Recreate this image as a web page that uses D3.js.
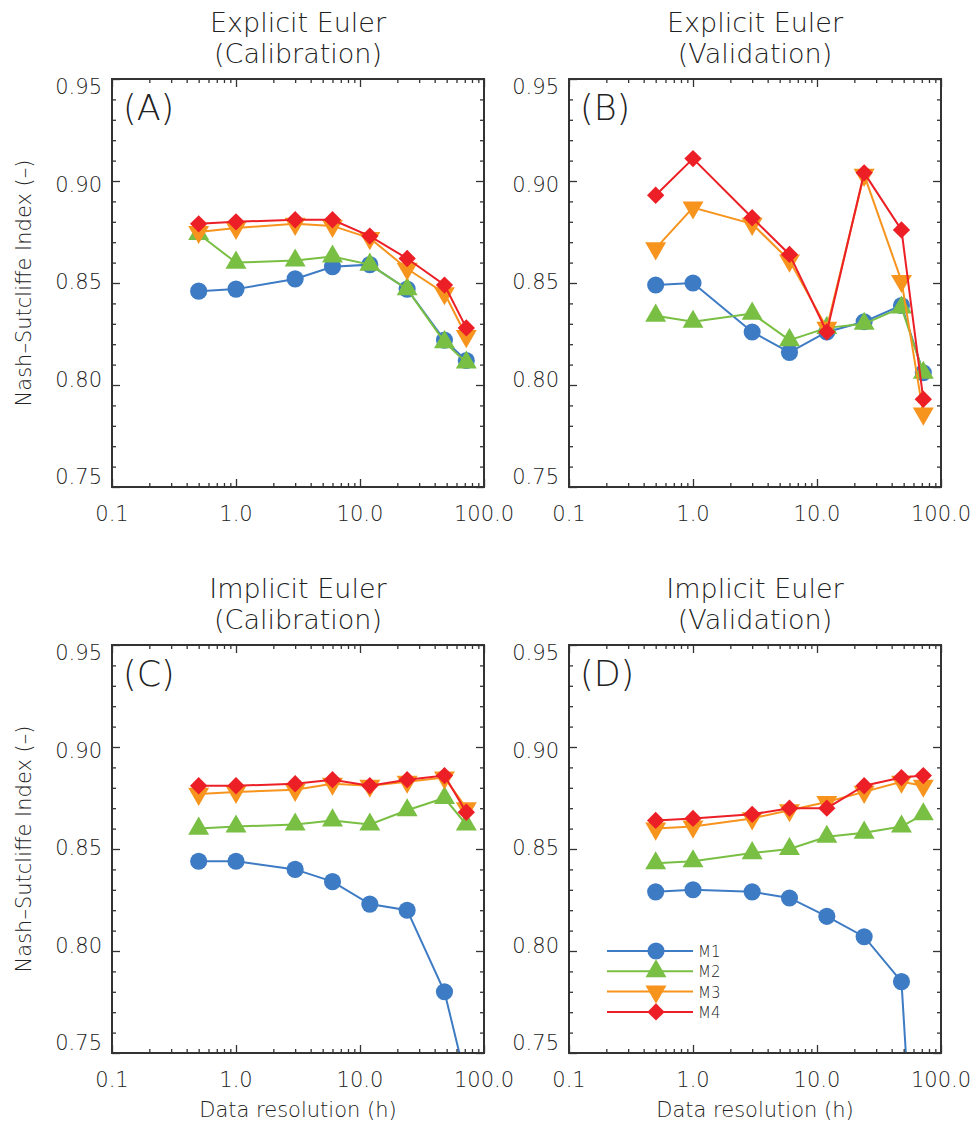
<!DOCTYPE html>
<html>
<head>
<meta charset="utf-8">
<script src="https://cdn.jsdelivr.net/npm/d3@7"></script>
<style>
  body { margin: 0; background: #fff; }
  svg text { font-family: "DejaVu Sans", sans-serif; font-weight: 200; fill: #222; }
</style>
</head>
<body>
<svg id="chart" width="977" height="1124"></svg>
<script>
// x values (hours) shared by every series
const resolution = [0.5, 1, 3, 6, 12, 24, 48, 72];
const xTickValues = [0.1, 1, 10, 100];
const xTickLabels = ["0.1", "1.0", "10.0", "100.0"];
const yTickValues = [0.75, 0.80, 0.85, 0.90, 0.95];
const yTickLabels = ["0.75", "0.80", "0.85", "0.90", "0.95"];
const models = ["M1", "M2", "M3", "M4"];
const colors = ["#3d7bc4", "#79bf43", "#f7941e", "#ec1f26"];

const panelTags = ["(A)", "(B)", "(C)", "(D)"];
const panelTitles = [
  ["Explicit Euler", "(Calibration)"],
  ["Explicit Euler", "(Validation)"],
  ["Implicit Euler", "(Calibration)"],
  ["Implicit Euler", "(Validation)"]
];

// (A) explicit, calibration
const explCalM1 = [0.846, 0.847, 0.852, 0.858, 0.859, 0.847, 0.822, 0.812];
const explCalM2 = [0.874, 0.860, 0.861, 0.863, 0.859, 0.847, 0.821, 0.811];
const explCalM3 = [0.875, 0.877, 0.879, 0.878, 0.872, 0.857, 0.845, 0.824];
const explCalM4 = [0.879, 0.880, 0.881, 0.881, 0.873, 0.862, 0.849, 0.828];
// (B) explicit, validation
const explValM1 = [0.849, 0.850, 0.826, 0.816, 0.826, 0.831, 0.839, 0.806];
const explValM2 = [0.834, 0.831, 0.835, 0.822, 0.828, 0.830, 0.838, 0.806];
const explValM3 = [0.867, 0.887, 0.879, 0.861, 0.828, 0.903, 0.851, 0.786];
const explValM4 = [0.893, 0.911, 0.882, 0.864, 0.826, 0.904, 0.876, 0.793];
// (C) implicit, calibration
const implCalM1 = [0.844, 0.844, 0.840, 0.834, 0.823, 0.820, 0.780, 0.736];
const implCalM2 = [0.860, 0.861, 0.862, 0.864, 0.862, 0.869, 0.875, 0.862];
const implCalM3 = [0.877, 0.878, 0.879, 0.882, 0.881, 0.883, 0.885, 0.870];
const implCalM4 = [0.881, 0.881, 0.882, 0.884, 0.881, 0.884, 0.886, 0.868];
// (D) implicit, validation
const implValM1 = [0.829, 0.830, 0.829, 0.826, 0.817, 0.807, 0.785, 0.610];
const implValM2 = [0.843, 0.844, 0.848, 0.850, 0.856, 0.858, 0.861, 0.867];
const implValM3 = [0.860, 0.861, 0.865, 0.869, 0.873, 0.878, 0.883, 0.881];
const implValM4 = [0.864, 0.865, 0.867, 0.870, 0.870, 0.881, 0.885, 0.886];

const panelSeries = [
  [explCalM1, explCalM2, explCalM3, explCalM4],
  [explValM1, explValM2, explValM3, explValM4],
  [implCalM1, implCalM2, implCalM3, implCalM4],
  [implValM1, implValM2, implValM3, implValM4]
];

// circle, up triangle, down triangle, square turned 45deg
const symbols = [d3.symbolCircle, d3.symbolTriangle, d3.symbolTriangle, d3.symbolSquare];
const symbolRot = [0, 0, 180, 45];
const symbolSize = [230, 190, 190, 150];

const svg = d3.select("#chart");
const boxW = 372, boxH = 408;
const origins = [[112, 79], [569, 79], [112, 645], [569, 645]];

const x = d3.scaleLog().domain([0.1, 100]).range([0, boxW]);
const y = d3.scaleLinear().domain([0.75, 0.95]).range([boxH, 0]);
// IDL spreads the y labels a little tighter than the ticks
const yLab = d3.scaleLinear().domain([0.75, 0.95]).range([boxH - 10, 8]);

const minorX = [];
[0.1, 1, 10].forEach(d => { for (let k = 2; k <= 9; k++) minorX.push(d * k); });
const minorY = d3.range(76, 95).map(v => v / 100).filter(v => Math.round(v * 100) % 5 !== 0);

function markerPath(i) {
  return d3.symbol(symbols[i], symbolSize[i])();
}

origins.forEach(([ox, oy], p) => {
  const g = svg.append("g").attr("transform", `translate(${ox},${oy})`);

  g.append("clipPath").attr("id", "clip" + p)
    .append("rect").attr("width", boxW).attr("height", boxH);

  // titles
  panelTitles[p].forEach((t, i) => {
    g.append("text")
      .attr("x", boxW / 2).attr("y", i === 0 ? -47 : -16)
      .attr("text-anchor", "middle")
      .style("font-size", "27px")
      .text(t);
  });

  // series
  const plot = g.append("g").attr("clip-path", `url(#clip${p})`);
  const line = d3.line().x((d, i) => x(resolution[i])).y(d => y(d));
  panelSeries[p].forEach((vals, m) => {
    const s = plot.append("g");
    s.append("path")
      .attr("d", line(vals))
      .attr("fill", "none")
      .attr("stroke", colors[m])
      .attr("stroke-width", 2);
    s.selectAll("path.mk").data(vals).enter().append("path")
      .attr("class", "mk")
      .attr("d", markerPath(m))
      .attr("transform", (d, i) => `translate(${x(resolution[i])},${y(d)}) rotate(${symbolRot[m]})`)
      .attr("fill", colors[m]);
  });

  // axes: ticks point inward on all four sides
  const axStyle = sel => {
    sel.select(".domain").remove();
    sel.selectAll("line").attr("stroke", "#333").attr("stroke-width", 1.3);
  };
  g.append("g").attr("transform", `translate(0,${boxH})`)
    .call(d3.axisBottom(x).tickValues(xTickValues).tickSize(-8).tickFormat(""))
    .call(axStyle);
  g.append("g").attr("transform", `translate(0,${boxH})`)
    .call(d3.axisBottom(x).tickValues(minorX).tickSize(-4).tickFormat(""))
    .call(axStyle);
  g.append("g")
    .call(d3.axisTop(x).tickValues(xTickValues).tickSize(-8).tickFormat(""))
    .call(axStyle);
  g.append("g")
    .call(d3.axisTop(x).tickValues(minorX).tickSize(-4).tickFormat(""))
    .call(axStyle);
  g.append("g")
    .call(d3.axisLeft(y).tickValues(yTickValues).tickSize(-8).tickFormat(""))
    .call(axStyle);
  g.append("g")
    .call(d3.axisLeft(y).tickValues(minorY).tickSize(-4).tickFormat(""))
    .call(axStyle);
  g.append("g").attr("transform", `translate(${boxW},0)`)
    .call(d3.axisRight(y).tickValues(yTickValues).tickSize(-8).tickFormat(""))
    .call(axStyle);
  g.append("g").attr("transform", `translate(${boxW},0)`)
    .call(d3.axisRight(y).tickValues(minorY).tickSize(-4).tickFormat(""))
    .call(axStyle);

  g.append("rect")
    .attr("width", boxW).attr("height", boxH)
    .attr("fill", "none").attr("stroke", "#333").attr("stroke-width", 2);

  // tick labels
  g.selectAll("text.xl").data(xTickValues).enter().append("text")
    .attr("class", "xl")
    .attr("x", d => x(d)).attr("y", boxH + 34)
    .attr("text-anchor", "middle")
    .style("font-size", "21px")
    .text((d, i) => xTickLabels[i]);
  g.selectAll("text.yl").data(yTickValues).enter().append("text")
    .attr("class", "yl")
    .attr("x", -10).attr("y", d => yLab(d) + 7)
    .attr("text-anchor", "end")
    .style("font-size", "21px")
    .text((d, i) => yTickLabels[i]);

  g.append("text")
    .attr("x", 11).attr("y", 41)
    .style("font-size", "35px")
    .text(panelTags[p]);

  if (p % 2 === 0) {
    g.append("text")
      .attr("transform", `translate(${31 - ox},${boxH / 2}) rotate(-90)`)
      .attr("text-anchor", "middle")
      .style("font-size", "21px")
      .text("Nash\u2013Sutcliffe Index (\u2013)");
  }
  if (p >= 2) {
    g.append("text")
      .attr("x", boxW / 2).attr("y", boxH + 64)
      .attr("text-anchor", "middle")
      .style("font-size", "21px")
      .text("Data resolution (h)");
  }

  // legend in panel D
  if (p === 3) {
    const leg = g.append("g").attr("transform", "translate(0,306)");
    models.forEach((name, m) => {
      const r = leg.append("g").attr("transform", `translate(0,${m * 20.3})`);
      r.append("line").attr("x1", 38).attr("x2", 124)
        .attr("stroke", colors[m]).attr("stroke-width", 2);
      r.append("path").attr("d", markerPath(m))
        .attr("transform", `translate(87,0) rotate(${symbolRot[m]})`)
        .attr("fill", colors[m]);
      r.append("text").attr("x", 129).attr("y", 6)
        .style("font-size", "15px")
        .text(name);
    });
  }
});
</script>
</body>
</html>
